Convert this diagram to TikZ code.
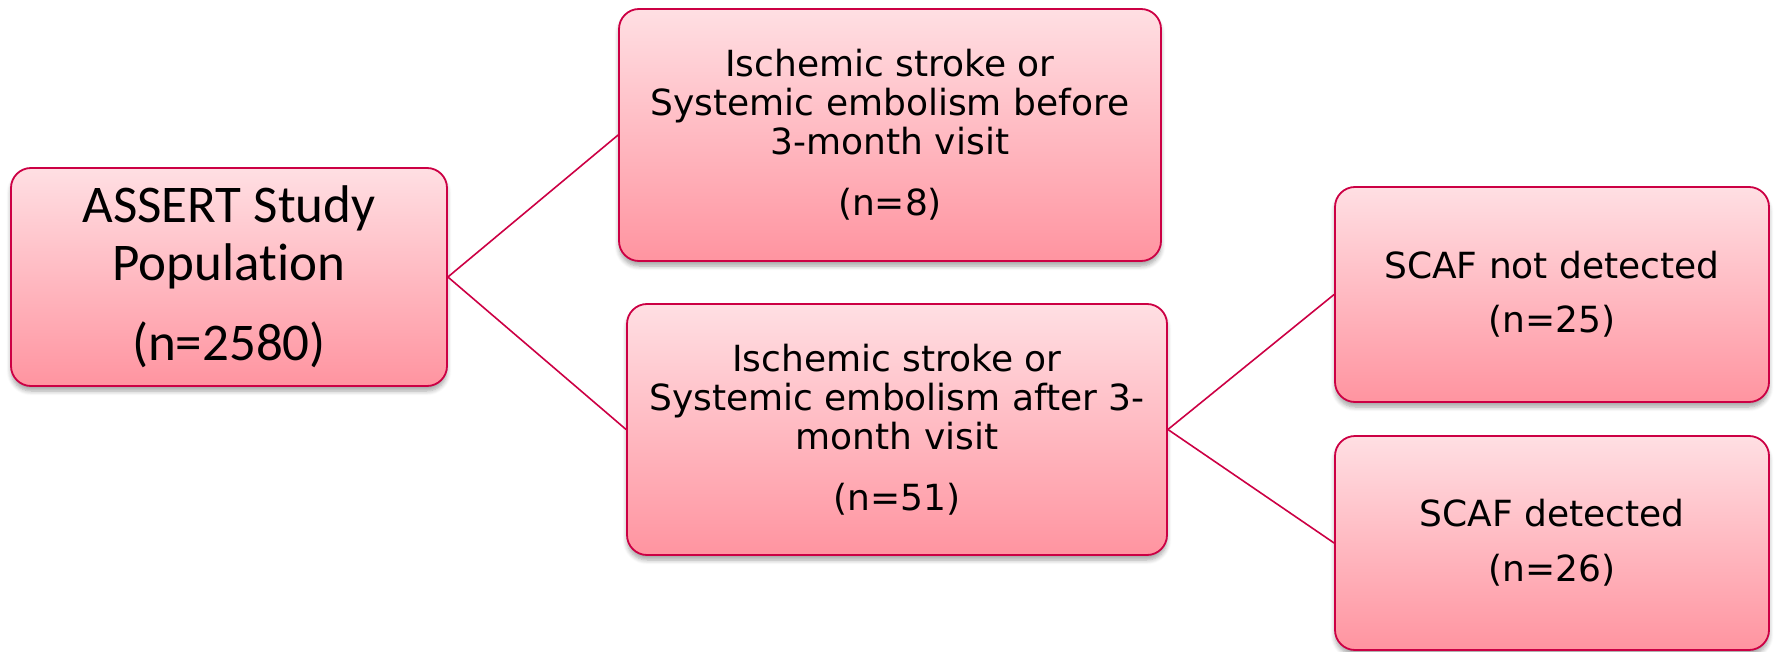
\documentclass[tikz,border=0pt]{standalone}
\usepackage{fontspec}
\setmainfont{DejaVu Sans}
\newfontfamily\calib[Ligatures=NoCommon]{Carlito}
\usetikzlibrary{shadows.blur}
\definecolor{boxtop}{RGB}{255,223,227}
\definecolor{boxbot}{RGB}{255,148,160}
\definecolor{boxline}{RGB}{204,0,68}
\tikzset{
  flowbox/.style={rectangle, rounded corners=10pt, draw=boxline, line width=0.9pt,
    top color=boxtop, bottom color=boxbot, inner sep=0pt, align=center,
    blur shadow={shadow xshift=0pt, shadow yshift=-2.5pt, shadow blur steps=6, shadow opacity=35},
    font=\fontsize{18}{19.5}\selectfont},
  link/.style={draw=boxline, line width=0.8pt}
}
\begin{document}
\begin{tikzpicture}[x=0.5pt, y=-0.5pt]
\useasboundingbox (0,0) rectangle (1777,652);
\node[flowbox, minimum width=218pt, minimum height=109pt, font=\calib\fontsize{26.5}{29}\selectfont]
  (b1) at (229,277) {ASSERT Study\\Population\\[11pt](n=2580)};
\node[flowbox, minimum width=271pt, minimum height=126pt]
  (b2) at (890,135) {Ischemic stroke or\\Systemic embolism before\\3-month visit\\[11pt](n=8)};
\node[flowbox, minimum width=270pt, minimum height=125.5pt]
  (b3) at (897,429.5) {Ischemic stroke or\\Systemic embolism after 3-\\month visit\\[11pt](n=51)};
\node[flowbox, minimum width=217pt, minimum height=107.5pt]
  (b4) at (1552,294.5) {SCAF not detected\\[7.5pt](n=25)};
\node[flowbox, minimum width=217pt, minimum height=107pt]
  (b5) at (1552,543) {SCAF detected\\[8pt](n=26)};
\draw[link] (b1.east) -- (b2.west);
\draw[link] (b1.east) -- (b3.west);
\draw[link] (b3.east) -- (b4.west);
\draw[link] (b3.east) -- (b5.west);
\end{tikzpicture}
\end{document}
